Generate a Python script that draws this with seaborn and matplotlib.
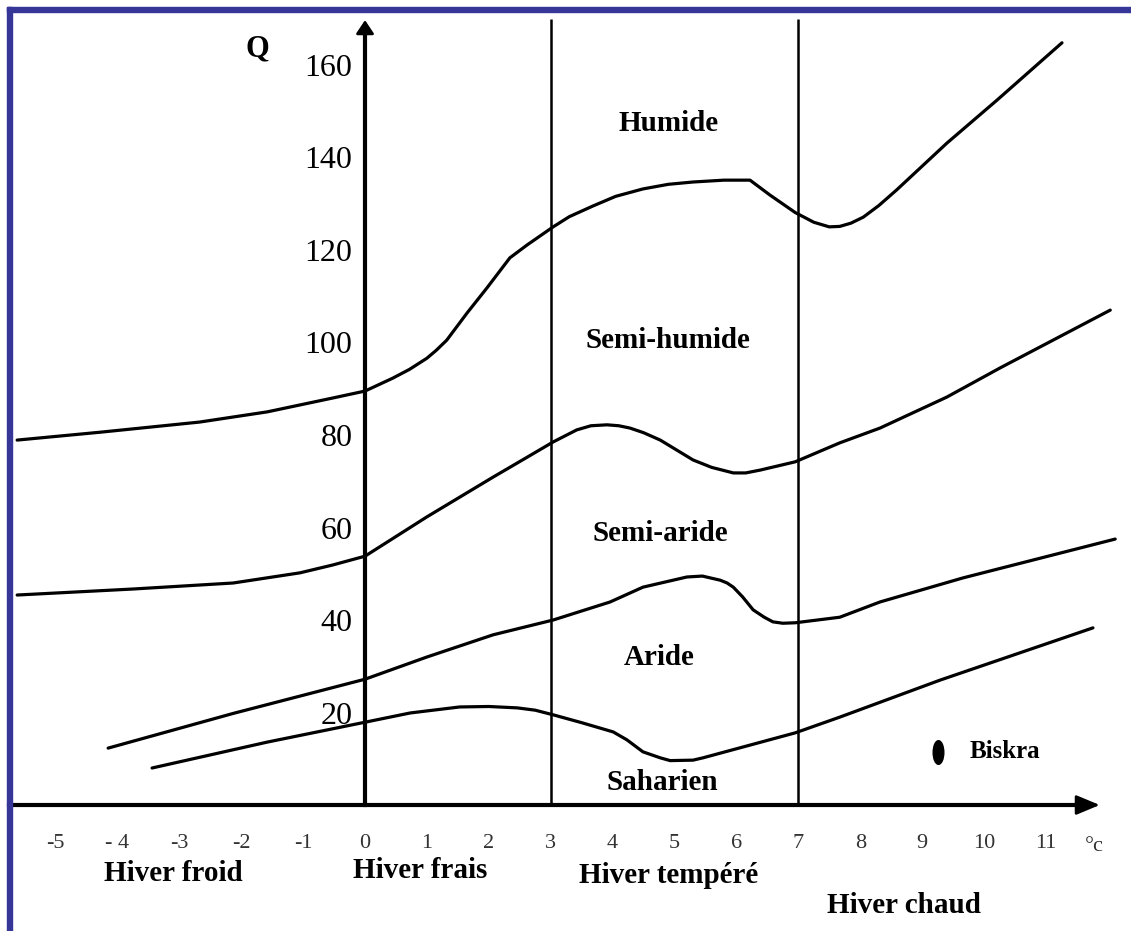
import numpy as np
import pandas as pd
import matplotlib
matplotlib.use("Agg")
import matplotlib.pyplot as plt
import seaborn as sns
from matplotlib.path import Path
from matplotlib.transforms import Affine2D
from matplotlib.patches import Rectangle

# ---------------- data ----------------
# m (°C) on x, Q (Emberger quotient) on y
humide_T = [-5.62, -4.28, -2.67, -1.58, -0.52, 0.0, 0.45, 0.72, 1.0, 1.15, 1.32, 1.65, 1.97,
            2.34, 2.62, 3.04, 3.30, 3.68, 4.05, 4.49, 4.90, 5.30, 5.80, 6.22, 6.54, 6.95,
            7.25, 7.50, 7.67, 7.85, 8.05, 8.30, 8.59, 9.40, 10.21, 11.26]
humide_Q = [78.9, 80.6, 82.8, 85.0, 88.0, 89.5, 92.3, 94.2, 96.6, 98.3, 100.5, 106.4, 111.8,
            118.3, 121.1, 125.0, 127.2, 129.5, 131.6, 133.2, 134.2, 134.7, 135.1, 135.1, 131.9, 128.1,
            126.0, 125.0, 125.1, 125.8, 127.1, 129.6, 133.0, 143.1, 152.4, 164.8]

semihum_T = [-5.62, -3.75, -2.13, -1.05, -0.52, 0.0, 1.0, 2.07, 2.62, 3.04, 3.42, 3.65, 3.91,
             4.10, 4.28, 4.50, 4.77, 5.30, 5.60, 5.95, 6.15, 6.38, 6.95, 7.67, 8.32, 9.40,
             10.26, 12.04]
semihum_Q = [45.4, 46.7, 48.0, 50.2, 51.9, 53.8, 62.3, 70.9, 75.2, 78.5, 81.1, 82.0, 82.2,
             82.0, 81.5, 80.5, 78.9, 74.6, 73.0, 71.8, 71.8, 72.4, 74.2, 78.3, 81.5, 88.2,
             94.5, 107.0]

semiar_T = [-4.15, -2.13, 0.0, 1.0, 2.07, 3.04, 3.96, 4.49, 5.20, 5.45, 5.74, 5.85, 5.95,
            6.10, 6.27, 6.45, 6.59, 6.75, 6.95, 7.67, 8.32, 9.66, 12.12]
semiar_Q = [12.3, 19.8, 27.2, 32.0, 36.8, 40.0, 43.9, 47.1, 49.3, 49.5, 48.6, 48.0, 47.1,
            45.0, 42.2, 40.6, 39.6, 39.3, 39.4, 40.6, 43.9, 49.1, 57.5]

aride_T = [-3.44, -1.58, 0.0, 0.73, 1.53, 2.00, 2.46, 2.75, 3.04, 3.50, 4.01, 4.23, 4.49,
           4.77, 4.93, 5.30, 5.46, 6.95, 7.67, 9.29, 11.76]
aride_Q = [8.0, 13.6, 17.9, 19.9, 21.2, 21.3, 21.0, 20.5, 19.5, 17.8, 15.8, 14.1, 11.5,
           10.2, 9.6, 9.7, 10.2, 15.6, 19.0, 27.0, 38.3]

zone_bounds_T = [3, 7]

x_ticks = list(range(-5, 12))
x_ticklabels = ["-5", "- 4", "-3", "-2", "-1", "0", "1", "2", "3", "4", "5", "6", "7",
                "8", "9", "10", "11"]
y_ticks = [20, 40, 60, 80, 100, 120, 140, 160]

zone_names = ["Humide", "Semi-humide", "Semi-aride", "Aride", "Saharien"]
zone_label_T = [4.91, 4.90, 4.77, 4.75, 4.80]
zone_label_Q = [147.3, 100.5, 58.8, 32.0, 4.8]

winter_names = ["Hiver froid", "Hiver frais", "Hiver tempéré", "Hiver chaud"]
winter_label_T = [-3.10, 0.89, 4.91, 8.71]
winter_label_Q = [-14.8, -14.2, -15.2, -21.8]

station_name = ["Biskra"]
station_T = [9.26]
station_Q = [11.5]

# ---------------- style ----------------
sns.set_style("white")
plt.rcParams["font.family"] = ["Liberation Serif", "DejaVu Serif"]
plt.rcParams["text.color"] = "black"

fig = plt.figure(figsize=(11.31, 9.31), dpi=100)
ax = fig.add_axes([0, 0, 1, 1])
ax.set_facecolor("white")

# limits chosen so the plot occupies the frame like the reference
ax.set_xlim(-5.897, 12.375)
ax.set_ylim(-27.24, 174.05)

# ---------------- curves ----------------
frames = []
for name, T, Q in [("h", humide_T, humide_Q), ("sh", semihum_T, semihum_Q),
                   ("sa", semiar_T, semiar_Q), ("a", aride_T, aride_Q)]:
    frames.append(pd.DataFrame({"T": T, "Q": Q, "curve": name}))
df = pd.concat(frames, ignore_index=True)
sns.lineplot(data=df, x="T", y="Q", units="curve", estimator=None, sort=False,
             color="black", lw=2.3, ax=ax, legend=False,
             solid_joinstyle="round", solid_capstyle="round")

# zone boundaries (vertical lines)
ax.vlines(zone_bounds_T, 0, 170.0, color="black", lw=1.8)

# ---------------- axes ----------------
for s in ["top", "right"]:
    ax.spines[s].set_visible(False)
ax.spines["left"].set_position(("data", 0))
ax.spines["bottom"].set_position(("data", 0))
ax.spines["left"].set_bounds(0, 167)
ax.spines["bottom"].set_bounds(-5.75, 11.5)
for s in ["left", "bottom"]:
    ax.spines[s].set_linewidth(3.0)
    ax.spines[s].set_color("black")
    ax.spines[s].set_zorder(3)

ax.annotate("", xy=(11.87, 0), xytext=(11.3, 0),
            arrowprops=dict(arrowstyle="-|>,head_length=0.6,head_width=0.25",
                            color="black", lw=2.0, mutation_scale=24,
                            shrinkA=0, shrinkB=0))
ax.annotate("", xy=(0, 169.7), xytext=(0, 164),
            arrowprops=dict(arrowstyle="-|>,head_length=0.45,head_width=0.3",
                            color="black", lw=2.0, mutation_scale=18,
                            shrinkA=0, shrinkB=0))

ax.set_xticks(x_ticks)
ax.set_xticklabels(x_ticklabels)
ax.set_yticks(y_ticks)
ax.set_yticklabels([str(v) for v in y_ticks])
ax.tick_params(axis="x", direction="out", length=9, width=1.5, color="#666666",
               pad=12, labelsize=16, labelcolor="#333333")
ax.tick_params(axis="y", direction="in", length=14, width=1.5, color="#777777",
               pad=9, labelsize=23, labelcolor="black")
ax.set_xlabel("")
ax.set_ylabel("")
ax.grid(False)

ax.text(11.78, -8.9, "°c", fontsize=16, color="#333333", ha="center", va="center")
ax.text(-1.745, 163.5, "Q", fontsize=22, fontweight="bold", color="black",
        ha="center", va="center")

# ---------------- labels ----------------
for name, t, q in zip(zone_names, zone_label_T, zone_label_Q):
    ax.text(t, q, name, fontsize=21, fontweight="bold", color="black",
            ha="center", va="center")
for name, t, q in zip(winter_names, winter_label_T, winter_label_Q):
    ax.text(t, q, name, fontsize=21, fontweight="bold", color="black",
            ha="center", va="center")

# station marker (vertical ellipse) and name
ellipse = Path.unit_circle().transformed(Affine2D().scale(0.45, 1.0))
ax.scatter(station_T, station_Q, marker=ellipse, s=17 ** 2, color="black", zorder=4)
for name, t, q in zip(station_name, station_T, station_Q):
    ax.text(t + 1.08, q, name, fontsize=18, fontweight="bold", color="black",
            ha="center", va="center")

# ---------------- frame (blue, top and left) ----------------
W, H = 1131.0, 931.0
frame_color = "#363698"
fig.patches.append(Rectangle((7 / W, (H - 12) / H), (W - 7) / W, 5 / H,
                             transform=fig.transFigure, color=frame_color, zorder=10))
fig.patches.append(Rectangle((7 / W, 0), 5 / W, (H - 7) / H,
                             transform=fig.transFigure, color=frame_color, zorder=10))

fig.savefig("out.png", dpi=100, facecolor="white")
